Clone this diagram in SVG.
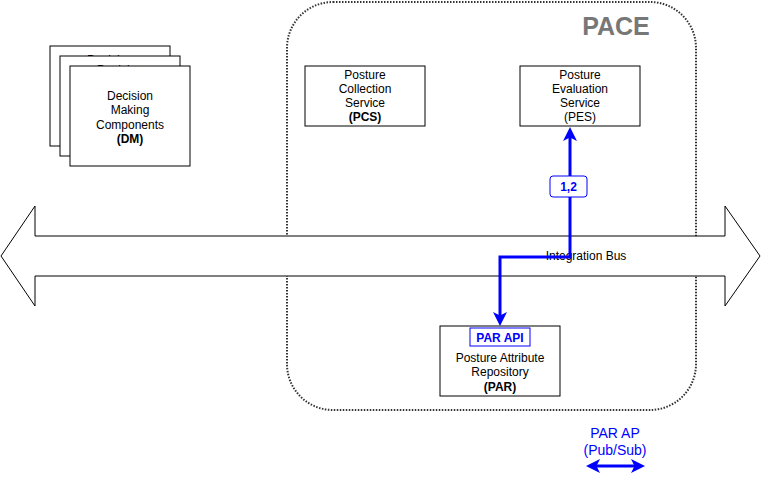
<svg xmlns="http://www.w3.org/2000/svg" width="761" height="477" viewBox="0 0 761 477">
<defs>
<style>
text{font-family:"Liberation Sans",Arial,Helvetica,sans-serif;font-size:12px;text-anchor:middle;fill:#000}
.b{font-weight:bold}
.blue{fill:#0000FF}
.box{fill:#fff;stroke:#000;stroke-width:1}
.conn{fill:none;stroke:#0000FF;stroke-width:3}
</style>
<marker id="ah" viewBox="0 0 14 14" refX="10" refY="7" markerWidth="14" markerHeight="14" markerUnits="userSpaceOnUse" orient="auto-start-reverse">
<path d="M0,0 L14,7 L0,14 L3.5,7 z" fill="#0000FF"/>
</marker>
</defs>
<rect width="761" height="477" fill="#fff"/>
<g id="pace">
<rect x="287" y="2" width="409" height="408" rx="46" ry="46" fill="#fff" stroke="#333" stroke-width="2" stroke-dasharray="1.5 1.5"/>
<text x="616" y="35" class="b" style="font-size:25px;fill:#777">PACE</text>
</g>
<g id="dm">
<rect class="box" x="50" y="46" width="120" height="100"/>
<text x="110" y="63.5">Decision</text>
<rect class="box" x="60" y="56" width="120" height="100"/>
<text x="120" y="73.5">Decision</text>
<rect class="box" x="70" y="66" width="120" height="100"/>
<text x="130" y="99.5">Decision</text>
<text x="130" y="114">Making</text>
<text x="130" y="128.5">Components</text>
<text x="130" y="143" class="b">(DM)</text>
</g>
<g id="pcs">
<rect class="box" x="305" y="66" width="120" height="60"/>
<text x="365" y="79">Posture</text>
<text x="365" y="93">Collection</text>
<text x="365" y="107">Service</text>
<text x="365" y="121" class="b">(PCS)</text>
</g>
<g id="pes">
<rect class="box" x="520" y="66" width="120" height="60"/>
<text x="580" y="79">Posture</text>
<text x="580" y="93">Evaluation</text>
<text x="580" y="107">Service</text>
<text x="580" y="121">(PES)</text>
</g>
<g id="par">
<rect class="box" x="440" y="326" width="120" height="70"/>
<rect x="470" y="328" width="60" height="18" fill="#fff" stroke="#0000FF" stroke-width="1"/>
<text x="500" y="341.5" class="b blue">PAR API</text>
<text x="500" y="362">Posture Attribute</text>
<text x="500" y="376">Repository</text>
<text x="500" y="391" class="b">(PAR)</text>
</g>
<g id="bus">
<polygon points="1,256 35,206 35,236 725,236 725,206 760,256 725,306 725,276 35,276 35,306" fill="#fff" stroke="#000" stroke-width="1"/>
<text x="586" y="260">Integration Bus</text>
</g>
<g id="connectors">
<path class="conn" d="M570,131 L570,257 L500,257 L500,322" marker-start="url(#ah)" marker-end="url(#ah)"/>
<rect x="550" y="176" width="37" height="21" rx="3" ry="3" fill="#fff" stroke="#0000FF" stroke-width="1"/>
<text x="568.5" y="191" class="b blue">1,2</text>
</g>
<g id="legend">
<text x="615" y="438" class="blue" style="font-size:14px">PAR AP</text>
<text x="615" y="455" class="blue" style="font-size:14px">(Pub/Sub)</text>
<path class="conn" d="M590,466 L641,466" marker-start="url(#ah)" marker-end="url(#ah)"/>
</g>
</svg>
